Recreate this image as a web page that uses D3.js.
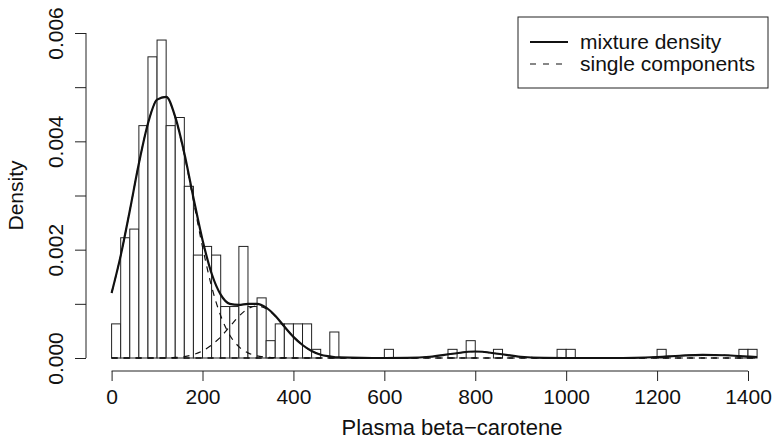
<!DOCTYPE html>
<html>
<head>
<meta charset="utf-8">
<script src="https://cdn.jsdelivr.net/npm/d3@7"></script>
<style>
    body { margin: 0; background: #fff; }
    svg { display: block; font-family: "Liberation Sans", Arial, sans-serif; }
</style>
</head>
<body>
<div id="chart"></div>
<script>

// histogram: left edge of each 20-wide bin and its density
const binStarts = [0, 20, 40, 60, 80, 100, 120, 140, 160, 180, 200, 220, 240, 260, 280, 300, 320, 340, 360, 380,
    400, 420, 440, 480, 600, 740, 780, 840, 980, 1000, 1200, 1380, 1400];
const binDensity = [0.00063, 0.00222, 0.00238, 0.00429, 0.00556, 0.00587, 0.00429, 0.00444, 0.00317, 0.00190,
    0.00206, 0.00190, 0.00095, 0.00095, 0.00206, 0.00095, 0.00111, 0.00032, 0.00063, 0.00063,
    0.00063, 0.00063, 0.00016, 0.00048, 0.00016, 0.00016, 0.00032, 0.00016, 0.00016, 0.00016, 0.00016, 0.00016, 0.00016];
const binWidth = 20;

// mixture density curve
const mixX = [0, 20, 40, 60, 80, 100, 120, 140, 160, 180, 200, 220, 240, 260, 280, 300, 320, 340, 360, 380,
    400, 420, 440, 460, 480, 500, 550, 600, 650, 700, 750, 800, 850, 900, 950, 1000, 1050, 1100, 1150,
    1200, 1250, 1300, 1350, 1400, 1420];
const mixY = [0.00120, 0.00189, 0.00272, 0.00359, 0.00433, 0.00477, 0.00482, 0.00445, 0.00378, 0.00296,
    0.00218, 0.00156, 0.00117, 0.00100, 0.00098, 0.00100, 0.00100, 0.00093, 0.00078, 0.00058,
    0.00039, 0.00024, 0.00013, 0.00006, 0.00003, 0.00001, 0.000001, 0, 0.000003, 0.000023,
    0.000079, 0.00012, 0.000079, 0.000023, 0.000003, 0, 0, 0, 0.000004,
    0.000018, 0.000042, 0.000059, 0.000051, 0.000026, 0.000018];

// single components
const comp1X = [0, 20, 40, 60, 80, 100, 120, 140, 160, 180, 200, 220, 240, 260, 280, 300, 320, 340, 360, 400, 1420];
const comp1Y = [0.00120, 0.00189, 0.00272, 0.00359, 0.00433, 0.00477, 0.00482, 0.00444, 0.00375, 0.00290,
    0.00205, 0.00132, 0.00078, 0.00042, 0.00021, 0.000095, 0.000039, 0.000015, 0.000005, 0, 0];
const comp2X = [0, 120, 140, 160, 180, 200, 220, 240, 260, 280, 300, 320, 340, 360, 380, 400, 420, 440, 460, 480, 500, 540, 1420];
const comp2Y = [0, 0, 0.000011, 0.000027, 0.000063, 0.00013, 0.00024, 0.00039, 0.00058, 0.00077, 0.00091,
    0.00096, 0.00091, 0.00077, 0.00058, 0.00039, 0.00024, 0.00013, 0.000063, 0.000027, 0.000011, 0, 0];
const comp3X = [0, 600, 650, 700, 750, 800, 850, 900, 950, 1000, 1420];
const comp3Y = [0, 0, 0.000003, 0.000023, 0.000079, 0.00012, 0.000079, 0.000023, 0.000003, 0, 0];
const comp4X = [0, 1100, 1150, 1200, 1250, 1300, 1350, 1400, 1420];
const comp4Y = [0, 0, 0.000004, 0.000018, 0.000042, 0.000059, 0.000051, 0.000026, 0.000018];

const xTicks = [0, 200, 400, 600, 800, 1000, 1200, 1400];
const yTicks = [0, 0.001, 0.002, 0.003, 0.004, 0.005, 0.006];
const yLabels = [0, 0.002, 0.004, 0.006];
const legendItems = ["mixture density", "single components"];

const width = 774, height = 441;
const fontSize = 21;

const svg = d3.select("#chart").append("svg")
    .attr("width", width)
    .attr("height", height);

const x = d3.scaleLinear().domain([0, 1400]).range([111.6, 748]);
const y = d3.scaleLinear().domain([0, 0.006]).range([358, 33]);

const axisY = 371;   // x axis line
const axisX = 86;    // y axis line

// bars
const bins = binStarts.map((b, i) => ({x0: b, x1: b + binWidth, d: binDensity[i]}));
svg.append("g")
    .selectAll("rect")
    .data(bins)
    .enter()
    .append("rect")
    .attr("x", d => x(d.x0))
    .attr("y", d => y(d.d))
    .attr("width", d => x(d.x1) - x(d.x0))
    .attr("height", d => y(0) - y(d.d))
    .attr("fill", "#fff")
    .attr("stroke", "#222")
    .attr("stroke-width", 1);

const line = d3.line()
    .x(d => x(d[0]))
    .y(d => y(d[1]))
    .curve(d3.curveMonotoneX);

// components, dashed
[[comp1X, comp1Y], [comp2X, comp2Y], [comp3X, comp3Y], [comp4X, comp4Y]].forEach(c => {
    svg.append("path")
        .datum(c[0].map((v, i) => [v, c[1][i]]))
        .attr("d", line)
        .attr("fill", "none")
        .attr("stroke", "#111")
        .attr("stroke-width", 1.2)
        .attr("stroke-dasharray", "6,6");
});

// mixture, solid
svg.append("path")
    .datum(mixX.map((v, i) => [v, mixY[i]]))
    .attr("d", line)
    .attr("fill", "none")
    .attr("stroke", "#111")
    .attr("stroke-width", 2.2);

// x axis
const xAxis = d3.axisBottom(x).tickValues(xTicks).tickSize(10).tickSizeOuter(0).tickPadding(8)
    .tickFormat(d3.format("d"));
const gx = svg.append("g")
    .attr("transform", `translate(0, ${axisY})`)
    .call(xAxis);
gx.select(".domain").remove();
gx.append("line")
    .attr("x1", x(xTicks[0])).attr("x2", x(xTicks[xTicks.length - 1]))
    .attr("stroke", "#222");
gx.selectAll(".tick line").attr("stroke", "#222");
gx.selectAll(".tick text")
    .attr("fill", "#111")
    .style("font-size", fontSize + "px")
    .style("font-family", '"Liberation Sans", Arial, sans-serif');

// y axis
const yAxis = d3.axisLeft(y).tickValues(yTicks).tickSize(11).tickSizeOuter(0)
    .tickFormat(d => yLabels.some(v => Math.abs(v - d) < 1e-9) ? d3.format(".3f")(d) : "");
const gy = svg.append("g")
    .attr("transform", `translate(${axisX}, 0)`)
    .call(yAxis);
gy.select(".domain").remove();
gy.append("line")
    .attr("y1", y(yTicks[0])).attr("y2", y(yTicks[yTicks.length - 1]))
    .attr("stroke", "#222");
gy.selectAll(".tick line").attr("stroke", "#222");
gy.selectAll(".tick text")
    .attr("x", 0)
    .attr("y", -30)
    .attr("dy", "0.35em")
    .attr("transform", "rotate(-90)")
    .attr("text-anchor", "middle")
    .attr("fill", "#111")
    .style("font-size", fontSize + "px")
    .style("font-family", '"Liberation Sans", Arial, sans-serif');

// axis titles
svg.append("text")
    .attr("x", 452)
    .attr("y", 427)
    .attr("dy", "0.35em")
    .attr("text-anchor", "middle")
    .style("font-size", "22px")
    .attr("fill", "#111")
    .text("Plasma beta\u2212carotene");

svg.append("text")
    .attr("transform", `translate(16, ${y(0.003)}) rotate(-90)`)
    .attr("dy", "0.35em")
    .attr("text-anchor", "middle")
    .style("font-size", fontSize + "px")
    .attr("fill", "#111")
    .text("Density");

// legend
const leg = {x0: 518, x1: 768, y0: 17, y1: 88};
svg.append("rect")
    .attr("x", leg.x0).attr("y", leg.y0)
    .attr("width", leg.x1 - leg.x0).attr("height", leg.y1 - leg.y0)
    .attr("fill", "#fff")
    .attr("stroke", "#222");

const legRow = d3.scalePoint().domain(legendItems).range([42, 64]);
legendItems.forEach((t, i) => {
    svg.append("line")
        .attr("x1", leg.x0 + 12).attr("x2", leg.x0 + 50)
        .attr("y1", legRow(t)).attr("y2", legRow(t))
        .attr("stroke", "#111")
        .attr("stroke-width", i === 0 ? 2.2 : 1.2)
        .attr("stroke-dasharray", i === 0 ? null : "6,7");
    svg.append("text")
        .attr("x", leg.x0 + 62)
        .attr("y", legRow(t))
        .attr("dy", "0.35em")
        .style("font-size", fontSize + "px")
        .attr("fill", "#111")
        .text(t);
});

</script>
</body>
</html>
